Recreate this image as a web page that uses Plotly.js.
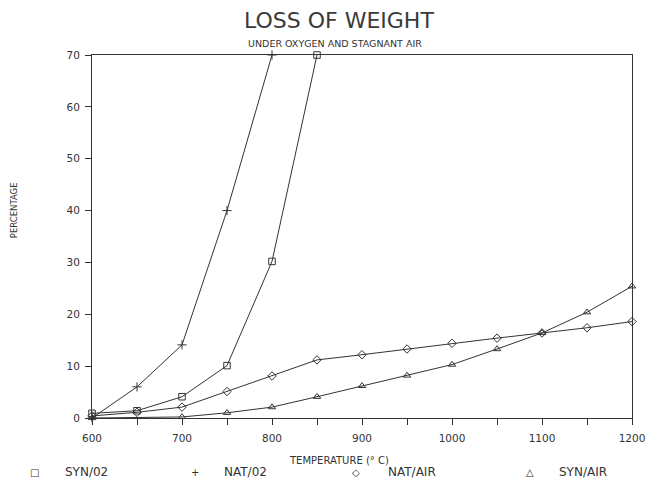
<!DOCTYPE html>
<html>
<head>
<meta charset="utf-8">
<script src="https://cdn.plot.ly/plotly-3.0.1.min.js"></script>
<style>html,body{margin:0;padding:0;background:#fff;}#chart{width:648px;height:483px;}</style>
</head>
<body>
<div id="chart"></div>
<script>
var seriesNames = ["SYN/02", "NAT/02", "NAT/AIR", "SYN/AIR"];
var seriesSymbols = ["square-open", "cross-thin-open", "diamond-open", "triangle-up-open"];
var legendGlyphs = ["\u25A1", "+", "\u25C7", "\u25B3"];

var synO2X = [600, 650, 700, 750, 800, 850];
var synO2Y = [0.9, 1.4, 4.1, 10.1, 30.2, 70];

var natO2X = [600, 650, 700, 750, 800];
var natO2Y = [0, 6.0, 14.1, 40, 70];

var natAirX = [600, 650, 700, 750, 800, 850, 900, 950, 1000, 1050, 1100, 1150, 1200];
var natAirY = [0.4, 1.1, 2.1, 5.1, 8.1, 11.2, 12.2, 13.3, 14.4, 15.4, 16.4, 17.4, 18.6];

var synAirX = [600, 700, 750, 800, 850, 900, 950, 1000, 1050, 1100, 1150, 1200];
var synAirY = [0, 0.2, 1.0, 2.1, 4.1, 6.2, 8.2, 10.3, 13.3, 16.4, 20.4, 25.4];

var xTickVals = [600, 700, 800, 900, 1000, 1100, 1200];
var yTickVals = [0, 10, 20, 30, 40, 50, 60, 70];

var ink = "#333333";
var fontFam = "'DejaVu Sans', sans-serif";

var xs = [synO2X, natO2X, natAirX, synAirX];
var ys = [synO2Y, natO2Y, natAirY, synAirY];

var traces = seriesNames.map(function (n, i) {
  return {
    x: xs[i], y: ys[i], name: n, type: "scatter", mode: "lines+markers",
    line: {color: ink, width: 1},
    marker: {symbol: seriesSymbols[i], size: 6.5, color: ink, line: {color: ink, width: 1}},
    cliponaxis: false
  };
});

var glyphX = [-0.1056, 0.1907, 0.4889, 0.8111];
var labelX = [-0.0537, 0.2407, 0.5444, 0.8611];
var legendY = -0.149;

var annotations = [
  {text: "LOSS OF WEIGHT", xref: "paper", yref: "paper", x: 0.457, y: 1.096, xanchor: "center", yanchor: "middle", showarrow: false, font: {family: fontFam, size: 22, color: "#3a3a3a"}},
  {text: "UNDER OXYGEN AND STAGNANT AIR", xref: "paper", yref: "paper", x: 0.45, y: 1.033, xanchor: "center", yanchor: "middle", showarrow: false, font: {family: fontFam, size: 9.5, color: ink}},
  {text: "TEMPERATURE (\u00B0 C)", xref: "paper", yref: "paper", x: 0.457, y: -0.116, xanchor: "center", yanchor: "middle", showarrow: false, font: {family: fontFam, size: 10, color: ink}},
  {text: "PERCENTAGE", xref: "paper", yref: "paper", x: -0.144, y: 0.573, xanchor: "center", yanchor: "middle", textangle: -90, showarrow: false, font: {family: fontFam, size: 8.5, color: ink}}
];
seriesNames.forEach(function (n, i) {
  annotations.push({text: legendGlyphs[i], xref: "paper", yref: "paper", x: glyphX[i], y: legendY, xanchor: "center", yanchor: "middle", showarrow: false, font: {family: fontFam, size: 10, color: ink}});
  annotations.push({text: n, xref: "paper", yref: "paper", x: labelX[i], y: legendY, xanchor: "left", yanchor: "middle", showarrow: false, font: {family: fontFam, size: 12, color: ink}});
});

var layout = {
  width: 648, height: 483,
  margin: {l: 92, r: 16, t: 55, b: 65},
  paper_bgcolor: "#fff", plot_bgcolor: "#fff",
  showlegend: false,
  font: {family: fontFam, size: 10.5, color: ink},
  xaxis: {
    range: [600, 1200], tickvals: xTickVals, ticktext: xTickVals.map(String),
    ticks: "outside", ticklen: 6, tickcolor: ink, tickwidth: 1, ticklabelstandoff: 4,
    minor: {dtick: 50, tick0: 600, ticks: "outside", ticklen: 6, tickcolor: ink, tickwidth: 1},
    showline: true, linecolor: ink, linewidth: 1, mirror: true,
    showgrid: false, zeroline: false,
    tickfont: {family: fontFam, size: 10.5, color: ink}
  },
  yaxis: {
    range: [0, 70], tickvals: yTickVals, ticktext: yTickVals.map(String),
    ticks: "outside", ticklen: 6, tickcolor: ink, tickwidth: 1, ticklabelstandoff: 3,
    showline: true, linecolor: ink, linewidth: 1, mirror: true,
    showgrid: false, zeroline: false,
    tickfont: {family: fontFam, size: 10.5, color: ink}
  },
  annotations: annotations
};

Plotly.newPlot("chart", traces, layout, {staticPlot: true, displayModeBar: false});
</script>
</body>
</html>
